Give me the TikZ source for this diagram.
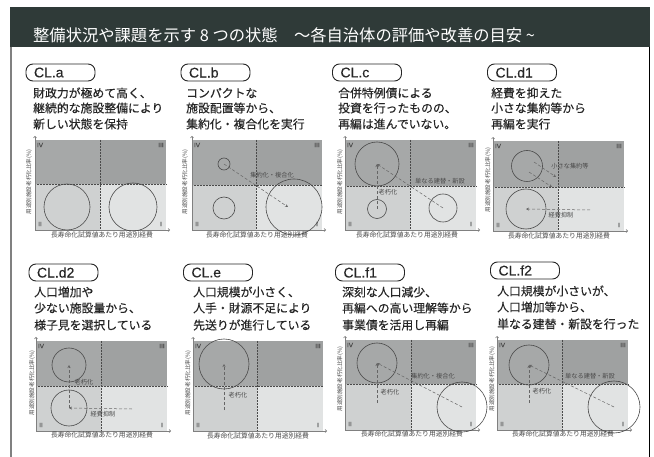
\documentclass[tikz,border=0pt]{standalone}
\usepackage{fontspec}
\setmainfont{Noto Sans CJK JP}
\newfontfamily\heavyfont[FakeBold=0.3]{Noto Sans CJK JP}
\newfontfamily\latinfont[FakeBold=0.25]{Liberation Sans}
\usetikzlibrary{arrows.meta}
\definecolor{hdr}{HTML}{2F3A38}
\definecolor{qfour}{HTML}{A6A8A8}
\definecolor{qthree}{HTML}{9FA1A1}
\definecolor{qtwo}{HTML}{CFD1D1}
\definecolor{qone}{HTML}{E1E3E3}
\definecolor{ink}{HTML}{262626}
\definecolor{soft}{HTML}{4A4A4A}
\tikzset{
  pill/.style={draw=ink,line width=0.9pt,rounded corners=7pt,minimum width=69pt,minimum height=17pt,inner sep=0pt,text width=53pt,align=left,font=\latinfont\fontsize{14}{14}\selectfont,text=ink},
  body/.style={anchor=west,align=left,inner sep=0pt,text=ink,font=\heavyfont\fontsize{11.85}{15.6}\selectfont},
  xlab/.style={inner sep=0pt,text=soft,font=\fontsize{6.8}{7}\selectfont},
  ylab/.style={inner sep=0pt,rotate=90,text=soft,font=\fontsize{5.6}{6}\selectfont},
  inlab/.style={inner sep=0pt,text=soft,font=\fontsize{6.2}{7}\selectfont},
  roman/.style={inner sep=0pt,text=soft,font=\latinfont\fontsize{6.5}{7}\selectfont},
  ring/.style={draw=soft,line width=0.6pt,circle,inner sep=0pt},
  move/.style={draw=soft!85,line width=0.5pt,densely dashed,-{Stealth[length=3pt,width=3pt]}},
  axis/.style={draw=gray,line width=0.7pt,-{Straight Barb[length=1.5pt,width=3pt]}},
  divide/.style={draw=soft,line width=0.5pt,densely dotted}
}
\newcommand{\quadplot}[7]{%
  \fill[qfour] (#2,#4) rectangle (#6,#5);
  \fill[qthree] (#6,#4) rectangle (#3,#5);
  \fill[qtwo] (#2,#5) rectangle (#6,#7);
  \fill[qone] (#6,#5) rectangle (#3,#7);
  \draw[divide] (#6,#4) -- (#6,#7);
  \draw[divide] (#2,#5) -- (#3,#5);
  \coordinate (#1o) at (#2,#7);
  \coordinate (#1x) at ({#3+4},#7);
  \coordinate (#1y) at (#2,{#4-4});
  \draw[axis] (#1o) -- (#1x);
  \draw[axis] (#1o) -- (#1y);
  \node[roman] (#1iv) at ({#2+5},{#4+5}) {IV};
  \node[roman] (#1iii) at ({#3-5},{#4+5}) {III};
  \node[roman] (#1ii) at ({#2+5},{#7-6}) {II};
  \node[roman] (#1i) at ({#3-5},{#7-6}) {I};
}
\newcommand{\axislabels}[5]{%
  \node[xlab] (#1xl) at (#2,#3) {長寿命化試算値あたり用途別経費};
  \node[ylab] (#1yl) at (#4,#5) {用途別施設老朽化比率(\%)};
}
\newcommand{\bubble}[4]{\node[ring,minimum size=#4 pt] (#1) at (#2,#3) {};}
\begin{document}
\begin{tikzpicture}[x=1pt,y=-1pt]
\useasboundingbox (0,0) rectangle (654,457);
\fill[white] (0,0) rectangle (654,457);
\fill[hdr] (10,7) rectangle (650,47.5);
\fill[gray] (10,47) rectangle (11.5,457);
\fill[black] (649,47) rectangle (650,457);
\node[anchor=west,inner sep=0pt,text=white,font=\fontsize{16.3}{16}\selectfont] (title) at (33,35) {整備状況や課題を示す 8 つの状態　～各自治体の評価や改善の目安 \textasciitilde};

% CL.a
\node[pill] (pa) at (60.5,72.5) {CL.a};
\node[body] (ta) at (33,93) {財政力が極めて高く、};
\node[body] (ta2) at (33,108) {継続的な施設整備により};
\node[body] (ta3) at (33,124) {新しい状態を保持};
\quadplot{a}{35}{166}{140}{184}{100}{230}
\axislabels{a}{102}{235}{29}{182}
\bubble{a1}{67}{207}{46}
\bubble{a2}{133}{207}{48}

% CL.b
\node[pill] (pb) at (215.5,72.5) {CL.b};
\node[body] (tb) at (186,93) {コンパクトな};
\node[body] (tb2) at (186,108) {施設配置等から、};
\node[body] (tb3) at (186,124) {集約化・複合化を実行};
\quadplot{b}{192}{322}{140}{185}{256}{230}
\axislabels{b}{257}{235}{185}{182}
\bubble{b1}{224}{164}{12}
\bubble{b2}{224}{208}{22}
\bubble{b3}{294}{207}{56}
\coordinate (b3c) at (288,207);
\draw[move] (b1.center) -- (b3c);
\node[inlab] (bl) at (272,175) {集約化・複合化};

% CL.c
\node[pill] (pc) at (367,72.5) {CL.c};
\node[body] (tc) at (338,93) {合併特例債による};
\node[body] (tc2) at (338,108) {投資を行ったものの、};
\node[body] (tc3) at (338,124) {再編は進んでいない。};
\quadplot{c}{345}{476}{140}{186}{410}{230}
\axislabels{c}{407}{235}{340}{182}
\bubble{c1}{377}{164}{44}
\bubble{c2}{377}{209}{19}
\bubble{c3}{443}{208}{28}
\draw[move] (c2.center) -- (c1.center);
\draw[move] (c3.center) -- (c1.center);
\node[inlab] (cl1) at (388,192) {老朽化};
\node[inlab] (cl2) at (440,181) {単なる建替・新設};

% CL.d1
\node[pill] (pd) at (522,72.5) {CL.d1};
\node[body] (td) at (491,93) {経費を抑えた};
\node[body] (td2) at (491,108) {小さな集約等から};
\node[body] (td3) at (491,124) {再編を実行};
\quadplot{d}{493}{624}{141}{187}{558}{231}
\axislabels{d}{559}{236}{488}{180}
\bubble{d1}{527}{166}{31}
\bubble{d2}{526}{209}{40}
\coordinate (d3) at (534,162);
\coordinate (d4) at (556,177);
\coordinate (d5) at (529,172);
\coordinate (d6) at (552,187);
\coordinate (d7) at (590,210);
\draw[move] (d3) -- (d4);
\draw[move] (d5) -- (d6);
\draw[move] (d7) -- (d2.center);
\node[inlab] (dl1) at (570,166) {小さな集約等};
\node[inlab] (dl2) at (561,215) {経費抑制};

% CL.d2
\node[pill] (pe) at (63.5,272.5) {CL.d2};
\node[body] (te) at (34,292) {人口増加や};
\node[body] (te2) at (34,308) {少ない施設量から、};
\node[body] (te3) at (34,325) {様子見を選択している};
\quadplot{e}{36}{167}{341}{386}{101}{431}
\axislabels{e}{102}{435}{32}{383}
\bubble{e1}{69}{365}{34}
\bubble{e2}{69}{408}{36}
\coordinate (e3) at (132,409);
\draw[move] (e2.center) -- (e1.center);
\draw[move] (e3) -- (e2.center);
\node[inlab] (el1) at (84,382) {老朽化};
\node[inlab] (el2) at (103,414) {経費抑制};

% CL.e
\node[pill] (pf) at (218,272.5) {CL.e};
\node[body] (tf) at (193,292) {人口規模が小さく、};
\node[body] (tf2) at (193,308) {人手・財源不足により};
\node[body] (tf3) at (193,325) {先送りが進行している};
\quadplot{f}{193}{323}{341}{386}{257}{431}
\axislabels{f}{258}{436}{188}{383}
\bubble{f1}{224}{364}{50}
\coordinate (f2) at (224,410);
\draw[move] (f2) -- (f1.center);
\node[inlab] (fl1) at (238,395) {老朽化};

% CL.f1
\node[pill] (pg) at (370,272.5) {CL.f1};
\node[body] (tg) at (342,292) {深刻な人口減少、};
\node[body] (tg2) at (342,308) {再編への高い理解等から};
\node[body] (tg3) at (342,325) {事業債を活用し再編};
\quadplot{g}{345}{476}{340}{384}{411}{430}
\axislabels{g}{412}{434}{340}{379}
\bubble{g1}{377}{363}{40}
\bubble{g2}{462}{407}{50}
\coordinate (g3) at (377,403);
\draw[move] (g3) -- (g1.center);
\draw[move] (g2.center) -- (g1.center);
\node[inlab] (gl1) at (390,392) {老朽化};
\node[inlab] (gl2) at (433,376) {集約化・複合化};

% CL.f2
\node[pill] (ph) at (525,270.5) {CL.f2};
\node[body] (th) at (497,291) {人口規模が小さいが、};
\node[body] (th2) at (497,307) {人口増加等から、};
\node[body] (th3) at (497,324) {単なる建替・新設を行った};
\quadplot{h}{497}{628}{340}{384}{562}{430}
\axislabels{h}{563}{434}{492}{379}
\bubble{h1}{529}{365}{40}
\bubble{h2}{614}{407}{52}
\coordinate (h3) at (529,403);
\draw[move] (h3) -- (h1.center);
\draw[move] (h2.center) -- (h1.center);
\node[inlab] (hl1) at (542,391) {老朽化};
\node[inlab] (hl2) at (590,376) {単なる建替・新設};
\end{tikzpicture}
\end{document}
